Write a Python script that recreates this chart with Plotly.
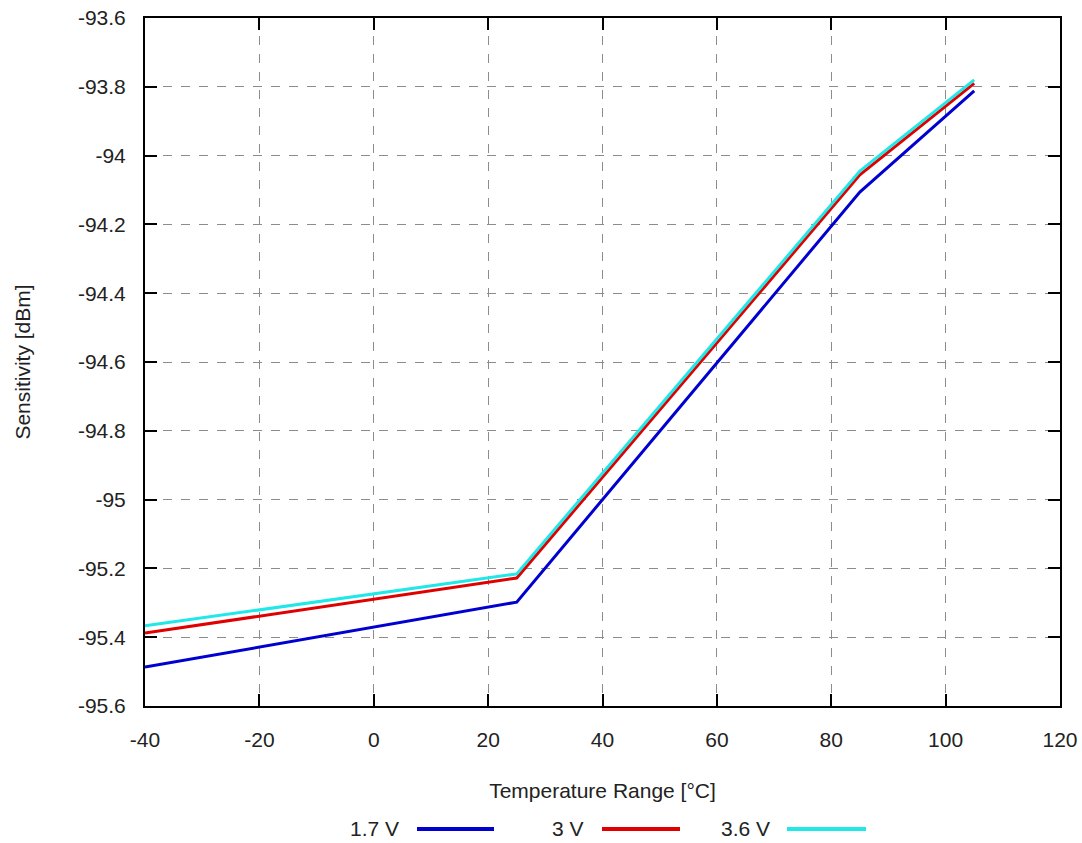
import plotly.graph_objects as go

temps = [-40, 25, 85, 105]
v17 = [-95.487, -95.298, -94.106, -93.812]
v30 = [-95.388, -95.228, -94.056, -93.790]
v36 = [-95.367, -95.216, -94.045, -93.780]
names = ["1.7 V", "3 V", "3.6 V"]
colors = ["#0000d0", "#e00000", "#20e8e8"]
series = [v17, v30, v36]

x_tickvals = [-40, -20, 0, 20, 40, 60, 80, 100, 120]
x_ticktext = ["-40", "-20", "0", "20", "40", "60", "80", "100", "120"]
y_tickvals = [-95.6, -95.4, -95.2, -95.0, -94.8, -94.6, -94.4, -94.2, -94.0, -93.8, -93.6]
y_ticktext = ["-95.6", "-95.4", "-95.2", "-95", "-94.8", "-94.6", "-94.4", "-94.2", "-94", "-93.8", "-93.6"]

FONT = "Liberation Sans, Arial, sans-serif"
FS = 21
TXT = "#222"
fig = go.Figure()
for n, c, s in zip(names, colors, series):
    fig.add_trace(go.Scatter(x=temps, y=s, name=n, mode="lines",
                             line=dict(color=c, width=3), showlegend=False))

axis_common = dict(showline=True, linecolor="black", linewidth=2, mirror="ticks",
                   ticks="inside", ticklen=12, tickwidth=2, tickcolor="black",
                   showgrid=True, gridcolor="#8c8c8c", griddash="dash", gridwidth=1,
                   zeroline=False, automargin=False, ticklabeloverflow="allow",
                   tickfont=dict(family=FONT, size=FS, color=TXT))
fig.update_xaxes(range=[-40, 120], tickmode="array", tickvals=x_tickvals, ticktext=x_ticktext,
                 ticklabelstandoff=14,
                 title=dict(text="Temperature Range [°C]", standoff=33,
                            font=dict(family=FONT, size=FS, color=TXT)),
                 **axis_common)
fig.update_yaxes(range=[-95.6, -93.6], tickmode="array", tickvals=y_tickvals, ticktext=y_ticktext,
                 ticklabelstandoff=13,
                 title=dict(text="Sensitivity [dBm]", standoff=42,
                            font=dict(family=FONT, size=FS, color=TXT)),
                 **axis_common)

W, H = 1082, 843
ml, mr, mt, mb = 145, 22, 18, 137
pw, ph = W - ml - mr, H - mt - mb
def px(xp):
    return (xp - ml) / pw
def py(yp):
    return (H - mb - yp) / ph

# legend (text before sample line, as in reference)
leg_text_x = [374, 568, 745]
leg_line_x = [(417, 494), (602, 680), (787, 866)]
for n, c, tx, (x0, x1) in zip(names, colors, leg_text_x, leg_line_x):
    fig.add_annotation(x=px(tx), y=py(828), xref="paper", yref="paper", text=n,
                       xanchor="center", yanchor="middle",
                       showarrow=False, font=dict(family=FONT, size=FS, color=TXT))
    fig.add_shape(type="line", xref="paper", yref="paper", x0=px(x0), x1=px(x1),
                  y0=py(829), y1=py(829), line=dict(color=c, width=4))

fig.update_layout(width=W, height=H, margin=dict(l=ml, r=mr, t=mt, b=mb, autoexpand=False),
                  paper_bgcolor="white", plot_bgcolor="white",
                  font=dict(family=FONT, size=FS, color=TXT))
fig.write_html("out.html", config={"displayModeBar": False},
               post_script="document.body.style.margin='0';document.body.style.overflow='hidden';")
